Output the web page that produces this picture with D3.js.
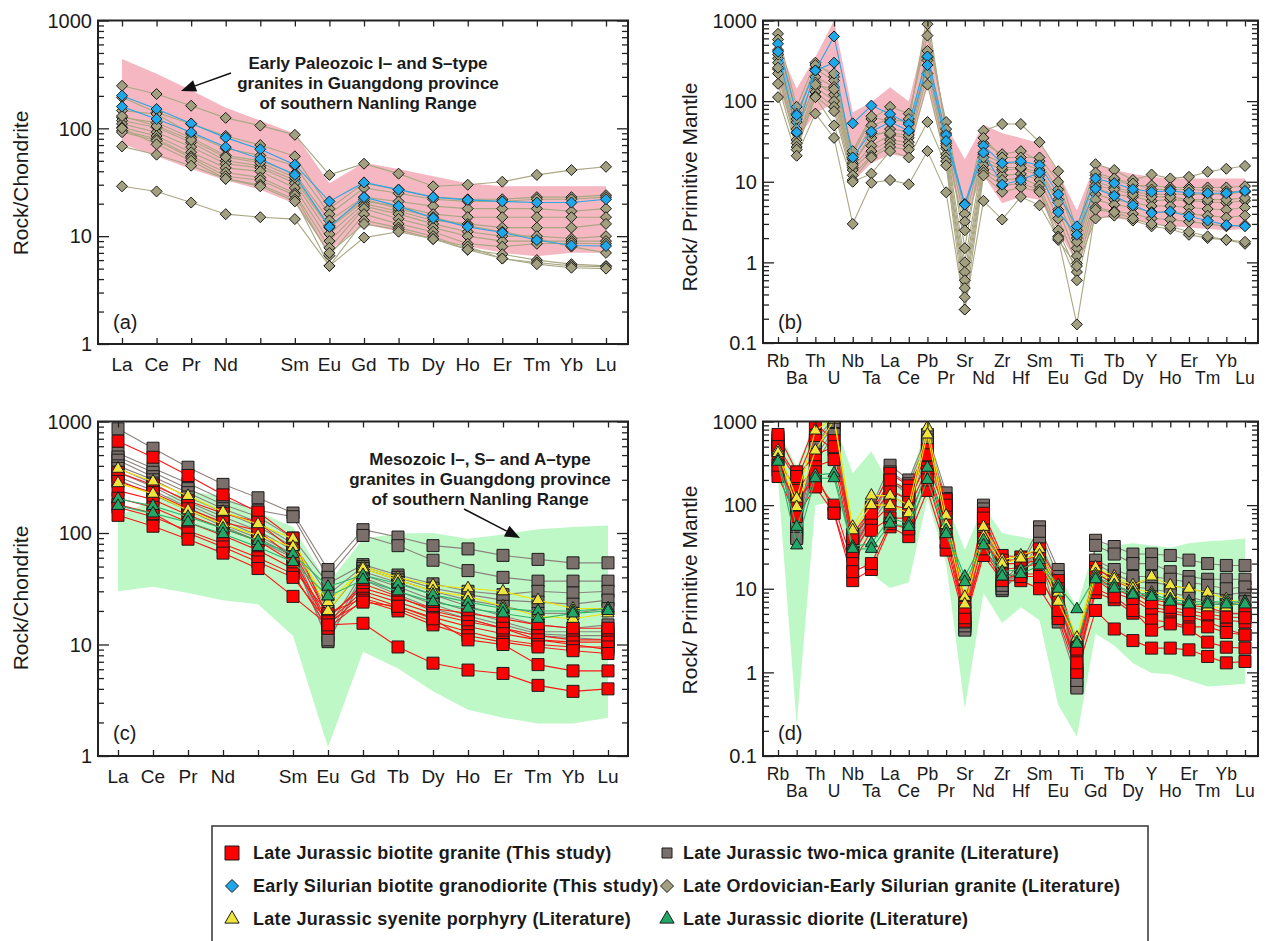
<!DOCTYPE html>
<html>
<head>
<meta charset="utf-8">
<script src="https://cdn.jsdelivr.net/npm/d3@7"></script>
<style>
body { margin: 0; background: #fff; }
svg text { font-family: "Liberation Sans", Arial, sans-serif; fill: #1a1a1a; }
</style>
</head>
<body>
<svg id="chart" width="1268" height="941"></svg>
<script>
// ---- elements / ticks ----
var reeElements = ["La","Ce","Pr","Nd","Pm","Sm","Eu","Gd","Tb","Dy","Ho","Er","Tm","Yb","Lu"];
var reeLabels = ["La","Ce","Pr","Nd","","Sm","Eu","Gd","Tb","Dy","Ho","Er","Tm","Yb","Lu"];
var pmElements = ["Rb","Ba","Th","U","Nb","Ta","La","Ce","Pb","Pr","Sr","Nd","Zr","Hf","Sm","Eu","Ti","Gd","Tb","Dy","Y","Ho","Er","Tm","Yb","Lu"];
var reeTicks = [1, 10, 100, 1000];
var pmTicks = [0.1, 1, 10, 100, 1000];

// ---- (a) chondrite-normalised, Early Paleozoic ----
var paleoUpperREE = [440,320,225,155,118,89,31,48,42,36,31,29,29,29,29];
var paleoLowerREE = [72,55,42,33,27,20,7.3,13,11,9.5,8,7,6.5,7,7];
var ordovicianREE = [
  [248,208,162,125,106,87,37,47,38,29,30,32,37,41,44],
  [194,140,110,85,70,55,18,31,27,23,22,22,23,23,24],
  [146,136,89,65,56,45,16,28,25,22,21,21,22,22,23],
  [126,113,82,56,50,38,14,23,21,19,18,18,18,17,18],
  [118,102,74,50,45,33,12,21,19,16,15,15,15,15,15],
  [110,92,67,47,43,31,10.5,20,17,14,13,12,12,12,13],
  [130,105,78,54,48,35,12.5,22,18,15,12.5,11,9.5,8,7],
  [102,85,60,43,40,28,9,19,16,13,11,10,10,9.5,10],
  [95,80,55,39,35,25,7.8,18,14.5,12,10,9,9,9,9],
  [92,77,53,36,33,24,6.6,16,13,11,8.5,8,8.5,8.6,8.5],
  [100,71,50,34,30,22,5.3,14,12,10,7.5,6.8,6,5.5,5.3],
  [68,57,45,34,29,21,7,13,11.5,9.4,8,6.2,5.7,5.3,5.2],
  [29,26,20.5,16,15,14.4,5.3,9.7,11,9.4,7.5,6.2,5.5,5.1,5]
];
var silurianREE = [
  [201,151,111,82,64,46,21,31.5,27,23,21.7,21,20.5,20.5,22],
  [159,122,92,67,52,37,12.2,23,19,14.7,12.2,10.8,9.2,8.2,8.1]
];

// ---- (b) primitive-mantle-normalised, Early Paleozoic ----
var paleoUpperPM = [470,143,350,1000,73,97,149,100,900,50,19,51,40,35,30,13,4.4,17,14,12.5,11.5,11,11,11,11,11];
var paleoLowerPM = [160,33,70,95,10,17,22,20,164,16,3.5,12,5.4,6.5,6,2.5,0.97,3.7,3.5,3.3,3,2.8,2.7,2.6,2.5,2.6];
var ordovicianPM = [
  [684,85,300,200,22,60,85,70,650,55,4,43,52,52,31,13.5,2.5,16.5,14,10.5,12.3,11,11.5,13.3,14.5,15.7],
  [580,70,250,180,19,50,60,55,1200,40,3.2,30,22,24,18,8,2,12,10.5,9,9,8.5,8.5,8.5,8.5,8.8],
  [430,55,200,150,17,35,45,42,420,30,1,22,17,17,14,6,1.5,10,8.5,7.5,7,7,7,7,7,7.5],
  [340,40,170,120,15,28,38,35,350,26,0.76,18,14,14.5,12,4.5,1.2,8.5,7,6.5,5.8,6,5.8,5.6,5.5,5.8],
  [300,33,150,100,14,24,33,31,280,22,0.6,16,12,12.5,10.5,3.5,0.97,7,6,5.5,5,5,4.8,4.6,4.5,4.8],
  [250,30,130,85,12,21,30,28,220,20,0.48,14,10.5,11,9,2.5,0.76,6,5.2,4.8,4.2,4.2,4,3.8,3.6,3.8],
  [220,27,115,75,10.5,20,27,25,160,18,0.37,13,9,9.5,8,2.1,0.6,4.8,4.3,4,3.5,3.4,3.2,3,2.8,2.9],
  [164,25,112,50,10,12.6,24,20,55,16,0.26,12,7.5,8.5,7.5,1.9,0.9,3.5,3.8,3.3,2.8,2.6,2.2,2,1.9,1.7],
  [112,21,70,35,3,9.7,10.5,9.3,24,7.4,0.26,5.8,3.4,6.5,5.1,2,0.17,4.5,4.2,3.5,3,2.8,2.4,2.1,1.9,1.8],
  [260,60,280,220,24,65,55,60,900,45,1.5,35,20,20,20,10,2.2,13,11,9.5,8,8,8,7.8,7.6,7.5],
  [380,45,160,140,16,40,40,38,320,28,2.5,20,15,15,13,5.5,1.8,9,8,7,6.5,6.5,6,6,6,6.3]
];
var silurianPM = [
  [514,67,240,634,53,88,69,52,358,38,5.3,28,17,18,16,7,2.8,11,9.6,8.1,7.5,7.7,7.3,7.2,7.2,7.7],
  [410,41,240,300,20,42,55,43,280,32,5.2,23,9.2,10.5,13,4.2,2.2,8.2,6.7,5.1,4.1,4.3,3.7,3.3,2.9,2.8]
];

// ---- (c) chondrite-normalised, Mesozoic ----
var mesoUpperREE = [140,200,240,210,155,113,35,89,99,100,89,97,108,113,117];
var mesoLowerREE = [30,33,29,25,23,12,1.2,8.6,6.1,3.8,2.6,2.2,1.96,1.96,2.2];
var twoMicaREE = [
  [860,576,389,273,207,151,47,107,92,77,72,63,58,54,54],
  [520,380,280,200,160,140,40,95,77,57,46,40,37,37,37],
  [480,350,250,180,140,90,35,52,42,35,30,28,30,29,30],
  [450,320,230,165,125,80,28,50,40,32,28,25,24,23,25],
  [400,300,210,155,115,75,20,48,38,30,25,22,19,19,21],
  [380,280,190,140,105,70,14,45,36,28,22,18,15,14,15],
  [350,260,180,130,95,65,12,42,33,25,20,16,13,13,13],
  [320,240,170,120,90,62,10.6,40,30,23,18,15,12.5,12,12],
  [300,220,160,115,85,60,11,38,28,21,17,14,12,11.5,11]
];
var biotiteREE = [
  [666,478,328,220,154,90,17,35,27,20,17,14,11,10,9],
  [350,270,195,150,125,70,18,32,26,21,19,17,15,14,14],
  [290,230,165,125,105,60,16,30,24,19,16,14,12,11,11],
  [240,200,145,110,85,55,15,28,22,17.5,14.5,12.5,11,10.5,10.5],
  [205,170,125,95,70,48,19,26,21,16,13,11,10,9.5,9.5],
  [170,140,105,80,60,43,14,25,20,15,12,10.5,9.5,8.8,8.3],
  [180,150,100,75,55,40,16,24,22,17,11,10,6.6,5.8,5.8],
  [144,115,88,66,48,27,15,15.5,9.5,6.8,5.9,5.5,4.3,3.8,4]
];
var syeniteREE = [
  [377,290,215,155,120,89,20,50,40,34,32,30,25,21,21],
  [280,225,160,120,95,75,24,48,38,30,27,22,18,17,19]
];
var dioriteREE = [
  [203,175,140,110,85,65,33,42,35,28,24,21,20,20,21],
  [175,150,125,98,75,55,27,38,30,24,21,19,17,19,20]
];

// ---- (d) primitive-mantle-normalised, Mesozoic ----
var mesoUpperPM = [800,290,1000,1000,240,440,170,200,900,110,29,97,46,42,38,15,6,35,33,35,33,31,35,37,38,40];
var mesoLowerPM = [200,0.235,100,110,22,15,10.2,12,120,20,0.37,8.9,3.9,6,4.2,0.41,0.17,2.9,2.1,1.29,0.98,0.95,0.8,0.68,0.7,0.73];
var twoMicaPM = [
  [650,50,600,1100,38,95,300,200,700,140,3.3,100,12,20,55,17,0.68,38,32,26,26,25,22,20,19,19],
  [550,45,500,1000,35,85,250,180,600,120,3.5,90,11,18,48,14,0.65,33,26,20,20,16,14,13,13,13],
  [500,55,450,900,32,75,180,150,500,100,3.8,70,10,17,30,10,0.9,20,15,12,12,11,10,9,8.5,9],
  [600,42,380,800,30,65,150,120,450,90,3.2,65,9.5,16,28,6,1,18,13,10.5,10,9,8,7,6.5,7],
  [450,40,320,700,28,60,130,100,400,80,3.6,55,10,15,25,4,0.8,16,11,8.5,8,7,6,5.5,5,5],
  [520,60,550,1000,36,70,200,130,550,110,4,75,11,17,35,12,1.1,22,17,14,14,13,12,11,10,10.5]
];
var biotitePM = [
  [700,250,950,590,45,90,240,170,460,116,6.8,80,25,24,30,12.5,2,18,12.5,10,7.4,6.8,6.3,6,5.1,5.1],
  [460,200,680,460,30,72,150,115,320,80,5.5,60,20,20,22,9,1.8,14,10,8,6,5.5,5,4.5,4.2,4],
  [350,150,290,350,26,60,100,90,280,60,4.7,40,17,18,20,7.4,1.6,13,9,7.4,5.5,5.1,4.7,4,3.3,2.8],
  [260,116,200,100,20,50,70,70,250,46,4.4,29,13,15,15,5.1,1.17,9,7.4,5.1,4.2,4,3.5,3.5,3,2.8],
  [220,73,165,80,12.5,17,55,42,150,29,4.1,25,12.5,12.5,10,4.4,1,5.5,3.3,2.4,1.95,1.95,1.86,1.55,1.3,1.35],
  [300,100,250,80,16,20,60,52,200,36,4.5,30,15,14,14,5.5,1.3,10,8,5.5,3.2,3.8,3.3,2.3,2,1.95],
  [500,220,400,500,40,80,200,150,400,100,6,70,22,22,25,10,1.9,16,11,9,6.8,6,5.5,5,4.6,4.5]
];
var syenitePM = [
  [450,120,780,1100,55,130,130,100,850,75,8,55,22,25,30,9,2.6,18,14,11,14,11,10,9,7.5,6.8],
  [420,95,450,1050,50,100,100,80,700,58,6.5,42,20,23,25,7,2.3,15,13,10,9,8.5,7,6,6,7]
];
var dioritePM = [
  [350,55,230,240,32,35,70,60,280,50,14,38,16,17,22,11,5.7,14,11,9,8.5,7.5,7,7,7,7],
  [330,33,210,210,30,30,60,55,200,45,12,33,14,15,19,10,2.2,13,10,8.5,8,7,6.5,6.5,6.5,6.5]
];

// ---- legend ----
var legendLabels = [
  "Late Jurassic biotite granite (This study)",
  "Late Jurassic two-mica granite (Literature)",
  "Early Silurian biotite granodiorite (This study)",
  "Late Ordovician-Early Silurian granite (Literature)",
  "Late Jurassic syenite porphyry (Literature)",
  "Late Jurassic diorite (Literature)"
];

var styles = {
  olive:  {fill: "#a3a07f", line: "#aaa783", shape: "diamond", size: 11},
  blue:   {fill: "#1ea8ea", line: "#2aa6e2", shape: "diamond", size: 11},
  red:    {fill: "#ff0000", line: "#ff1414", shape: "square", size: 12},
  gray:   {fill: "#7a6f6a", line: "#8c827d", shape: "square", size: 12},
  yellow: {fill: "#f0e43c", line: "#f2e200", shape: "triangle", size: 12},
  green:  {fill: "#22a866", line: "#2db46c", shape: "triangle", size: 12}
};
var legendStyles = ["red","gray","blue","olive","yellow","green"];

var svg = d3.select("#chart");

function markerPath(shape, size){
    if (shape === "square") return d3.symbol(d3.symbolSquare, size * size)();
    if (shape === "triangle") return d3.symbol(d3.symbolTriangle, size * size * 0.45)();
    var r = size / 2;
    return "M0," + (-r) + "L" + r + ",0L0," + r + "L" + (-r) + ",0Z";
}

function arrow(x1, y1, x2, y2){
    var ang = Math.atan2(y2 - y1, x2 - x1), len = 15, w = 6;
    var bx = x2 - len * Math.cos(ang), by = y2 - len * Math.sin(ang);
    svg.append("line")
        .attr("x1", x1).attr("y1", y1).attr("x2", bx).attr("y2", by)
        .attr("stroke", "#111").attr("stroke-width", 1.5);
    svg.append("path")
        .attr("d", "M" + x2 + "," + y2 +
              "L" + (bx + w * Math.sin(ang)) + "," + (by - w * Math.cos(ang)) +
              "L" + (bx - w * Math.sin(ang)) + "," + (by + w * Math.cos(ang)) + "Z")
        .attr("fill", "#111");
}

function drawPanel(p){
    var g = svg.append("g");
    var x = d3.scalePoint().domain(p.elements).range([p.xFirst, p.xLast]);
    var y = d3.scaleLog().domain(p.yDomain).range([p.bottom, p.top]);

    g.append("clipPath").attr("id", "clip-" + p.id)
        .append("rect")
        .attr("x", p.left).attr("y", p.top)
        .attr("width", p.right - p.left).attr("height", p.bottom - p.top);

    var plot = g.append("g").attr("clip-path", "url(#clip-" + p.id + ")");

    var area = d3.area()
        .x(function(d, i){ return x(p.elements[i]); })
        .y0(function(d, i){ return y(p.lower[i]); })
        .y1(function(d){ return y(d); });
    plot.append("path").datum(p.upper)
        .attr("d", area)
        .attr("fill", p.envColor);

    var line = d3.line()
        .x(function(d, i){ return x(p.elements[i]); })
        .y(function(d){ return y(d); });

    p.groups.forEach(function(grp){
        var st = styles[grp.style];
        plot.selectAll(null).data(grp.rows).enter().append("path")
            .attr("d", line)
            .attr("fill", "none")
            .attr("stroke", st.line)
            .attr("stroke-width", 1.1);
        var mk = markerPath(st.shape, st.size);
        grp.rows.forEach(function(row){
            plot.selectAll(null).data(row).enter().append("path")
                .attr("d", mk)
                .attr("transform", function(d, i){
                    return "translate(" + x(p.elements[i]) + "," + y(d) + ")";
                })
                .attr("fill", st.fill)
                .attr("stroke", "#1c1c1c")
                .attr("stroke-width", 1);
        });
    });

    // frame
    g.append("rect")
        .attr("x", p.left).attr("y", p.top)
        .attr("width", p.right - p.left).attr("height", p.bottom - p.top)
        .attr("fill", "none").attr("stroke", "#222").attr("stroke-width", 2);

    // x ticks, top and bottom, inward
    g.append("g").attr("transform", "translate(0," + p.bottom + ")")
        .call(d3.axisBottom(x).tickSize(-6).tickFormat(""))
        .call(function(s){ s.select(".domain").remove(); });
    g.append("g").attr("transform", "translate(0," + p.top + ")")
        .call(d3.axisTop(x).tickSize(-6).tickFormat(""))
        .call(function(s){ s.select(".domain").remove(); });

    // y ticks
    var minors = [];
    for (var e = p.yDomain[0]; e < p.yDomain[1]; e *= 10)
        for (var k = 2; k < 10; k++) minors.push(e * k);
    [[d3.axisLeft, p.left], [d3.axisRight, p.right]].forEach(function(a){
        g.append("g").attr("transform", "translate(" + a[1] + ",0)")
            .call(a[0](y).tickValues(minors).tickSize(-6).tickFormat(""))
            .call(function(s){ s.select(".domain").remove(); });
        g.append("g").attr("transform", "translate(" + a[1] + ",0)")
            .call(a[0](y).tickValues(p.majors).tickSize(-11).tickFormat(""))
            .call(function(s){ s.select(".domain").remove(); });
    });
    g.selectAll(".tick line").attr("stroke", "#222").attr("stroke-width", 1.3);

    g.selectAll(null).data(p.majors).enter().append("text")
        .attr("x", p.left - 6)
        .attr("y", function(d){ return y(d); })
        .attr("dy", "0.36em")
        .attr("text-anchor", "end")
        .attr("font-size", 20)
        .text(function(d){ return String(d); });

    // element labels
    g.selectAll(null).data(p.labels).enter().append("text")
        .attr("x", function(d, i){ return x(p.elements[i]); })
        .attr("y", function(d, i){ return p.twoRows && i % 2 ? p.labelY + 17 : p.labelY; })
        .attr("text-anchor", "middle")
        .attr("font-size", p.twoRows ? 17.5 : 19)
        .text(function(d){ return d; });

    g.append("text")
        .attr("transform", "translate(" + p.titleX + "," + p.titleY + ") rotate(-90)")
        .attr("text-anchor", "middle")
        .attr("dy", "0.35em")
        .attr("font-size", 21)
        .text(p.title);

    g.append("text")
        .attr("x", p.tagX).attr("y", p.tagY)
        .attr("font-size", 20)
        .text(p.tag);
}

var pink = "#f5b7c1", mint = "#bef8c6";

drawPanel({id: "a", elements: reeElements, labels: reeLabels, twoRows: false,
    xFirst: 122, xLast: 606, left: 98, right: 628, top: 20.5, bottom: 344,
    yDomain: [1, 1000], majors: reeTicks, upper: paleoUpperREE, lower: paleoLowerREE, envColor: pink,
    groups: [{rows: ordovicianREE, style: "olive"}, {rows: silurianREE, style: "blue"}],
    title: "Rock/Chondrite", titleX: 21, titleY: 183, tag: "(a)", tagX: 113, tagY: 329, labelY: 371});

drawPanel({id: "b", elements: pmElements, labels: pmElements, twoRows: true,
    xFirst: 778, xLast: 1245, left: 763, right: 1258, top: 20.5, bottom: 343,
    yDomain: [0.1, 1000], majors: pmTicks, upper: paleoUpperPM, lower: paleoLowerPM, envColor: pink,
    groups: [{rows: ordovicianPM, style: "olive"}, {rows: silurianPM, style: "blue"}],
    title: "Rock/ Primitive Mantle", titleX: 690, titleY: 187, tag: "(b)", tagX: 778, tagY: 329, labelY: 367});

drawPanel({id: "c", elements: reeElements, labels: reeLabels, twoRows: false,
    xFirst: 118, xLast: 608, left: 98, right: 628, top: 421.5, bottom: 756,
    yDomain: [1, 1000], majors: reeTicks, upper: mesoUpperREE, lower: mesoLowerREE, envColor: mint,
    groups: [{rows: twoMicaREE, style: "gray"}, {rows: biotiteREE, style: "red"},
             {rows: syeniteREE, style: "yellow"}, {rows: dioriteREE, style: "green"}],
    title: "Rock/Chondrite", titleX: 21, titleY: 598, tag: "(c)", tagX: 113, tagY: 740, labelY: 783});

drawPanel({id: "d", elements: pmElements, labels: pmElements, twoRows: true,
    xFirst: 778, xLast: 1245, left: 763, right: 1258, top: 421.5, bottom: 756,
    yDomain: [0.1, 1000], majors: pmTicks, upper: mesoUpperPM, lower: mesoLowerPM, envColor: mint,
    groups: [{rows: twoMicaPM, style: "gray"}, {rows: biotitePM, style: "red"},
             {rows: syenitePM, style: "yellow"}, {rows: dioritePM, style: "green"}],
    title: "Rock/ Primitive Mantle", titleX: 690, titleY: 590, tag: "(d)", tagX: 778, tagY: 740, labelY: 780});

// annotations
function note(lines, cx, y0){
    svg.append("g").selectAll("text").data(lines).enter().append("text")
        .attr("x", cx)
        .attr("y", function(d, i){ return y0 + i * 20; })
        .attr("text-anchor", "middle")
        .attr("font-family", "DejaVu Sans, sans-serif")
        .attr("font-weight", "bold")
        .attr("font-size", 17)
        .text(function(d){ return d; });
}
note(["Early Paleozoic I\u2013 and S\u2013type", "granites in Guangdong province", "of southern Nanling Range"], 368, 69);
arrow(231, 73, 181, 91);
note(["Mesozoic I\u2013, S\u2013 and A\u2013type", "granites in Guangdong province", "of southern Nanling Range"], 480, 465);
arrow(464, 509, 520, 538);

// legend
svg.append("rect")
    .attr("x", 212).attr("y", 826).attr("width", 936).attr("height", 130)
    .attr("fill", "none").attr("stroke", "#333").attr("stroke-width", 1.5);

var legend = svg.append("g").selectAll("g").data(legendLabels).enter().append("g")
    .attr("transform", function(d, i){
        return "translate(" + (i % 2 ? 667 : 232) + "," + (853 + Math.floor(i / 2) * 33) + ")";
    });
legend.append("path")
    .attr("d", function(d, i){
        var st = styles[legendStyles[i]];
        return markerPath(st.shape, i === 1 ? 10 : st.size + 2);
    })
    .attr("fill", function(d, i){ return styles[legendStyles[i]].fill; })
    .attr("stroke", "#1c1c1c").attr("stroke-width", 1);
legend.append("text")
    .attr("x", function(d, i){ return i % 2 ? 16 : 21; })
    .attr("dy", "0.36em")
    .attr("font-family", "DejaVu Sans, sans-serif")
    .attr("font-weight", "bold")
    .attr("font-size", 18)
    .attr("letter-spacing", 0.3)
    .text(function(d){ return d; });
</script>
</body>
</html>
